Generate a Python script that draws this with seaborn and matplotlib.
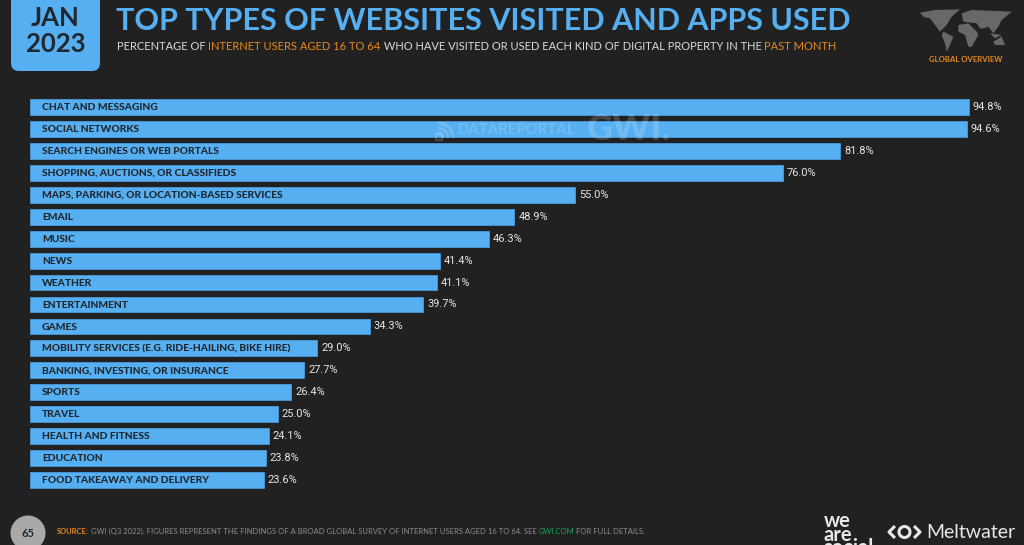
import matplotlib
matplotlib.use("Agg")
import matplotlib.pyplot as plt
import seaborn as sns
import pandas as pd
from matplotlib.patches import FancyBboxPatch, Circle, Polygon, Arc, Rectangle

categories = ["CHAT AND MESSAGING", "SOCIAL NETWORKS", "SEARCH ENGINES OR WEB PORTALS",
              "SHOPPING, AUCTIONS, OR CLASSIFIEDS", "MAPS, PARKING, OR LOCATION-BASED SERVICES",
              "EMAIL", "MUSIC", "NEWS", "WEATHER", "ENTERTAINMENT", "GAMES",
              "MOBILITY SERVICES (E.G. RIDE-HAILING, BIKE HIRE)", "BANKING, INVESTING, OR INSURANCE",
              "SPORTS", "TRAVEL", "HEALTH AND FITNESS", "EDUCATION", "FOOD TAKEAWAY AND DELIVERY"]
values = [94.8, 94.6, 81.8, 76.0, 55.0, 48.9, 46.3, 41.4, 41.1, 39.7, 34.3, 29.0, 27.7, 26.4, 25.0, 24.1, 23.8, 23.6]

BG = "#212121"; BLUE = "#56AFF1"; EDGE = "#4A9BDB"; ORANGE = "#E58A1F"; DARK = "#20272E"
W, H = 1024, 545
sns.set_theme(style="dark", rc={"axes.facecolor": "none", "figure.facecolor": BG})
plt.rcParams["font.family"] = ["Lato", "DejaVu Sans"]

fig = plt.figure(figsize=(W / 100, H / 100), dpi=100, facecolor=BG)

ov = fig.add_axes([0, 0, 1, 1], zorder=3)
ov.set_xlim(0, W); ov.set_ylim(H, 0); ov.axis("off")

top, bottom = 96.03, 491.0
ax = fig.add_axes([30 / W, 1 - bottom / H, (W - 30) / W, (bottom - top) / H], zorder=1)
df = pd.DataFrame({"category": categories, "value": values})
sns.barplot(data=df, y="category", x="value", order=categories, orient="h", color=BLUE,
            saturation=1, width=0.72, ax=ax, edgecolor=EDGE, linewidth=0.6)
ax.set_xlim(0, (W - 30) / 9.905)
ax.set_ylim(len(categories) - 0.5, -0.5)
ax.axis("off")
for i, (c, v) in enumerate(zip(categories, values)):
    ax.text(1.2, i + 0.03, c, color=DARK, fontsize=7.4, fontweight="black", va="center", ha="left", zorder=5)
    ax.text(v + 0.4, i, f"{v:.1f}%", color="#E6E6E6", fontsize=7.9, family=["Roboto", "DejaVu Sans"],
            va="center", ha="left")

# watermark
WM = dict(color="white", alpha=0.17)
ov.text(458, 130.5, "DATAREPORTAL", fontsize=10.7, fontweight="bold", va="center", ha="left", **WM)
ov.text(587, 130, "GWI.", fontsize=26, fontweight="black", va="center", ha="left", **WM)
for d in (10, 20, 30):
    ov.add_patch(Arc((438, 138), d, d, theta1=-90, theta2=0, angle=0, ec="white", alpha=0.17, lw=2))
ov.add_patch(Rectangle((436, 134), 6, 6, fc="none", ec="white", alpha=0.17, lw=1.5))

# date box
ov.add_patch(FancyBboxPatch((11, -20), 89, 91, boxstyle="round,pad=0,rounding_size=8", fc=BLUE, ec="none"))
ov.text(55.5, 18, "JAN", color=DARK, fontsize=18.5, fontweight="bold", ha="center", va="center")
ov.text(55.5, 43.5, "2023", color=DARK, fontsize=18.5, fontweight="bold", ha="center", va="center")

# title
ov.text(116, 20.5, "TOP TYPES OF WEBSITES VISITED AND APPS USED", color=BLUE, fontsize=22.0,
        fontweight="bold", ha="left", va="center")

runs = [("PERCENTAGE OF ", "#DADADA"), ("INTERNET USERS AGED 16 TO 64", ORANGE),
        (" WHO HAVE VISITED OR USED EACH KIND OF DIGITAL PROPERTY IN THE ", "#DADADA"), ("PAST MONTH", ORANGE)]
r = fig.canvas.get_renderer()
x = 117
for s, col in runs:
    t = ov.text(x, 46, s.replace(" ", "\u00a0"), color=col, fontsize=8.04, ha="left", va="center")
    x = t.get_window_extent(r).x1

# map (rough continents)
land = "#686868"
continents = [
    [(15, 38), (60, 30), (135, 28), (110, 50), (95, 75), (75, 95), (60, 75), (45, 55), (25, 50)],
    [(85, 95), (115, 110), (105, 135), (95, 155), (90, 130), (80, 105)],
    [(130, 75), (160, 70), (185, 95), (190, 105), (170, 140), (160, 140), (150, 105), (130, 95)],
    [(140, 40), (170, 30), (290, 35), (260, 60), (250, 80), (235, 100), (220, 80), (205, 85),
     (195, 85), (185, 70), (145, 65)],
    [(235, 125), (260, 110), (270, 135), (240, 135)],
    [(225, 100), (260, 105), (240, 115)],
]
for c in continents:
    ov.add_patch(Polygon([(915 + a / 3, b / 3) for a, b in c], closed=True, fc=land, ec="none"))
ov.text(965.5, 60, "GLOBAL OVERVIEW", color=ORANGE, fontsize=5.6, fontweight="bold", ha="center", va="center")

# footer
ov.add_patch(Circle((28, 533), 17.5, fc="#A9A9A9", ec="none"))
ov.text(28, 533.5, "65", color=DARK, fontsize=8, fontweight="bold", ha="center", va="center")
foot = [("SOURCE:", ORANGE, "bold"),
        (" GWI (Q3 2022). FIGURES REPRESENT THE FINDINGS OF A BROAD GLOBAL SURVEY OF INTERNET USERS AGED 16 TO 64. SEE ", "#8C8C8C", "normal"),
        ("GWI.COM", "#1E9E5A", "normal"), (" FOR FULL DETAILS.", "#8C8C8C", "normal")]
x = 57
for s, col, w in foot:
    t = ov.text(x, 531, s.replace(" ", "\u00a0"), color=col, fontsize=5.47, fontweight=w, ha="left", va="center")
    x = t.get_window_extent(r).x1

# logos
ov.text(824, 511, "we\nare\nsocial", color="#E8E8E8", fontsize=14.5, fontweight="bold", ha="left", va="top",
        linespacing=0.6, clip_on=False)
LG = dict(color="#E8E8E8", lw=2.2, solid_capstyle="butt")
ov.plot([895, 889, 895], [526, 532, 538], **LG)
ov.plot([914, 920, 914], [526, 532, 538], **LG)
ov.add_patch(Circle((904.5, 532), 5.5, fill=False, ec="#E8E8E8", lw=2.2))
ov.text(926, 532, "Meltwater", color="#E8E8E8", fontsize=14, ha="left", va="center")
ov.set_xlim(0, W); ov.set_ylim(H, 0)

fig.savefig("out.png", dpi=100, facecolor=BG)
